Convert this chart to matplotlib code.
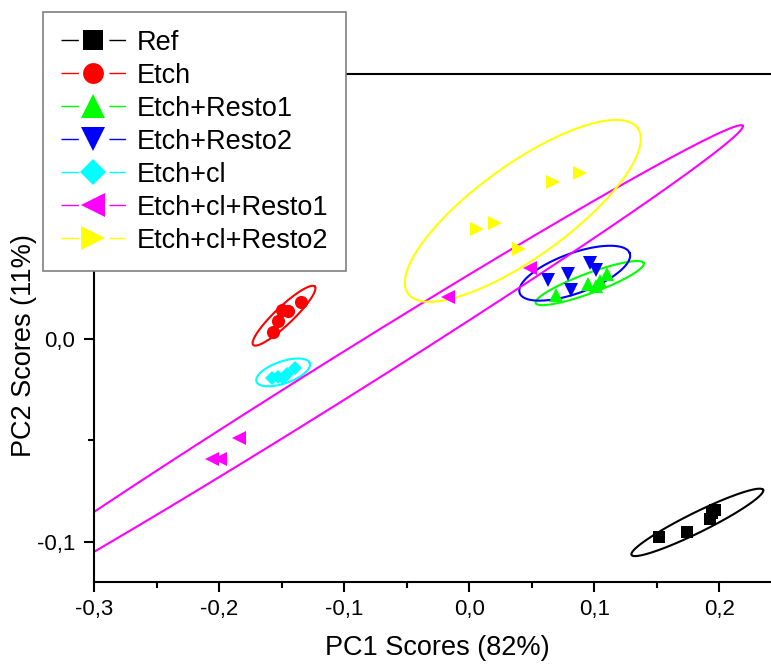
import numpy as np
import matplotlib
matplotlib.use('Agg')
import matplotlib.pyplot as plt
from matplotlib.lines import Line2D
from matplotlib.ticker import FixedLocator, FixedFormatter

# ---------------- data ----------------
groups = ['Ref', 'Etch', 'Etch+Resto1', 'Etch+Resto2', 'Etch+cl',
          'Etch+cl+Resto1', 'Etch+cl+Resto2']
colors = ['#000000', '#FF0000', '#00FF00', '#0000FF', '#00FFFF', '#FF00FF', '#FFFF00']
markers = ['s', 'o', '^', 'v', 'D', '<', '>']

ref_pc1 = [0.1517, 0.1744, 0.1922, 0.1962, 0.1938]
ref_pc2 = [-0.0978, -0.0951, -0.0889, -0.0843, -0.0858]

etch_pc1 = [-0.1568, -0.1533, -0.1501, -0.1453, -0.1347]
etch_pc2 = [0.0035, 0.0090, 0.0145, 0.0140, 0.0183]

etch_r1_pc1 = [0.0697, 0.0947, 0.1011, 0.1043, 0.1099]
etch_r1_pc2 = [0.0219, 0.0273, 0.0263, 0.0288, 0.0323]

etch_r2_pc1 = [0.0630, 0.0790, 0.0811, 0.0963, 0.1017]
etch_r2_pc2 = [0.0293, 0.0323, 0.0244, 0.0378, 0.0342]

etch_cl_pc1 = [-0.1581, -0.1528, -0.1488, -0.1395, -0.1460]
etch_cl_pc2 = [-0.0193, -0.0185, -0.0193, -0.0143, -0.0170]

etch_cl_r1_pc1 = [-0.2058, -0.1994, -0.1843, -0.0172, 0.0484]
etch_cl_r1_pc2 = [-0.0591, -0.0591, -0.0488, 0.0209, 0.0352]

etch_cl_r2_pc1 = [0.0060, 0.0204, 0.0400, 0.0667, 0.0883]
etch_cl_r2_pc2 = [0.0545, 0.0575, 0.0446, 0.0777, 0.0822]

pc1_values = [ref_pc1, etch_pc1, etch_r1_pc1, etch_r2_pc1, etch_cl_pc1, etch_cl_r1_pc1, etch_cl_r2_pc1]
pc2_values = [ref_pc2, etch_pc2, etch_r1_pc2, etch_r2_pc2, etch_cl_pc2, etch_cl_r1_pc2, etch_cl_r2_pc2]

# 95% confidence ellipses: centre, major half-axis vector, minor half-axis vector (data units)
ell_center_pc1 = [0.1823, -0.1481, 0.0963, 0.0843, -0.1488, -0.1115, 0.0428]
ell_center_pc2 = [-0.0905, 0.0116, 0.0277, 0.0326, -0.0164, -0.0224, 0.0634]
ell_major_pc1 = [0.0526, 0.02462, 0.04317, 0.04397, 0.02134, 0.3301, 0.0918]
ell_major_pc2 = [0.01606, 0.01443, 0.00988, 0.00988, 0.00455, 0.1278, 0.0409]
ell_minor_pc1 = [0.00354, 0.00495, 0.00278, 0.00547, 0.00287, 0.00874, 0.02169]
ell_minor_pc2 = [-0.00443, -0.00323, -0.00463, -0.00929, -0.00514, -0.00863, -0.01859]

x_ticks = [-0.3, -0.2, -0.1, 0.0, 0.1, 0.2]
x_tick_labels = ['-0,3', '-0,2', '-0,1', '0,0', '0,1', '0,2']
x_minor = [-0.25, -0.15, -0.05, 0.05, 0.15]
y_ticks = [-0.1, 0.0, 0.1]
y_tick_labels = ['-0,1', '0,0', '0,1']
y_minor = [-0.05, 0.05]

# ---------------- figure ----------------
W, H = 771, 664
fig = plt.figure(figsize=(W / 100, H / 100), dpi=100)
ax = fig.add_axes([94 / W, 1 - 581.7 / H, (W - 94) / W, (581.7 - 74) / H])

narrow = ['Liberation Sans Narrow', 'Liberation Sans', 'DejaVu Sans']
regular = ['Liberation Sans', 'DejaVu Sans']

pt_ms = {'s': 8, 'o': 9.5, '^': 10.5, 'v': 10.5, 'D': 6.8, '<': 10.5, '>': 10.5}
leg_ms = {'s': 14.5, 'o': 15, '^': 17, 'v': 17, 'D': 13.5, '<': 17, '>': 17}

t = np.linspace(0, 2 * np.pi, 400)
for i in range(len(groups)):
    ex = ell_center_pc1[i] + ell_major_pc1[i] * np.cos(t) + ell_minor_pc1[i] * np.sin(t)
    ey = ell_center_pc2[i] + ell_major_pc2[i] * np.cos(t) + ell_minor_pc2[i] * np.sin(t)
    ax.plot(ex, ey, color=colors[i], lw=1.5, zorder=2)

for i in range(len(groups)):
    ax.plot(pc1_values[i], pc2_values[i], linestyle='none', marker=markers[i],
            ms=pt_ms[markers[i]], color=colors[i], markeredgewidth=0, zorder=3)

ax.set_xlim(-0.3, 0.2412)
ax.set_ylim(-0.1198, 0.131)

ax.xaxis.set_major_locator(FixedLocator(x_ticks))
ax.xaxis.set_major_formatter(FixedFormatter(x_tick_labels))
ax.xaxis.set_minor_locator(FixedLocator(x_minor))
ax.yaxis.set_major_locator(FixedLocator(y_ticks))
ax.yaxis.set_major_formatter(FixedFormatter(y_tick_labels))
ax.yaxis.set_minor_locator(FixedLocator(y_minor))

ax.spines['right'].set_visible(False)
for s in ['left', 'bottom', 'top']:
    ax.spines[s].set_linewidth(1.5)
ax.tick_params(which='major', direction='out', length=7.5, width=1.5, labelsize=16)
ax.tick_params(axis='x', which='major', pad=5)
ax.tick_params(axis='y', which='major', pad=6)
ax.tick_params(which='minor', direction='out', length=4.5, width=1.5)
ax.tick_params(top=False, right=False)
for lab in ax.get_xticklabels() + ax.get_yticklabels():
    lab.set_family(narrow)

ax.set_xlabel('PC1 Scores (82%)', fontsize=19.5, family=narrow)
ax.set_ylabel('PC2 Scores (11%)', fontsize=19.5, family=narrow)
ax.xaxis.set_label_coords((437 - 94) / (W - 94), (581.7 - 635) / (581.7 - 74))
ax.yaxis.set_label_coords((37 - 94) / (W - 94), (581.7 - 346) / (581.7 - 74))

handles = [Line2D([0], [0], color=colors[i], marker=markers[i], ms=leg_ms[markers[i]],
                  markeredgewidth=0, lw=1.0, linestyle=(0, (12.5, 22, 12, 60)))
           for i in range(len(groups))]
leg = fig.legend(handles, groups, loc='upper left',
                 bbox_to_anchor=(43 / W, 1 - 12 / H), borderaxespad=0,
                 prop={'family': regular, 'size': 19.5}, frameon=True, fancybox=False,
                 edgecolor='#7f7f7f', framealpha=1, handlelength=2.4,
                 handletextpad=0.4, labelspacing=0.26, borderpad=0.65)
leg.get_frame().set_linewidth(1.2)

fig.savefig('out.png', dpi=100)
